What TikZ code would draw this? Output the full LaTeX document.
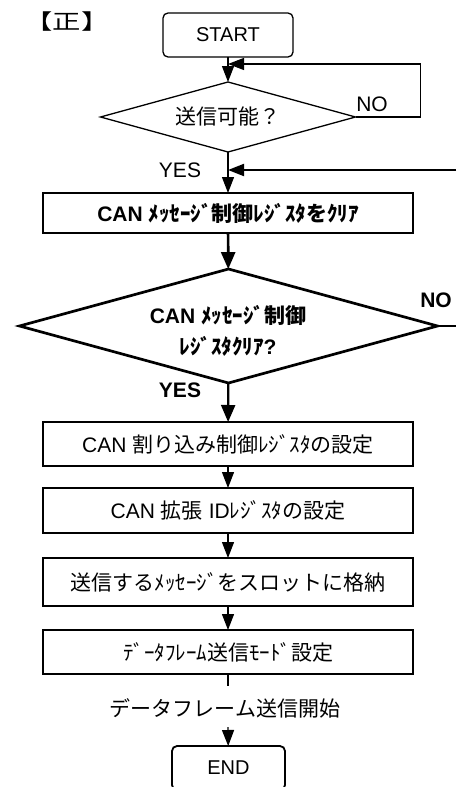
\documentclass[tikz,border=0pt]{standalone}
\usepackage{fontspec}
\setmainfont{Liberation Sans}
\newfontfamily\jp{Noto Sans CJK JP}
\usetikzlibrary{arrows.meta,shapes.geometric}
\begin{document}
\begin{tikzpicture}[x=1pt,y=-1pt,
  arr/.style={-{Triangle[length=16pt,width=12pt]}},
  barr/.style={-{Triangle[length=17pt,width=14pt]}},
  thinln/.style={line width=1.3pt},
  midln/.style={line width=1.8pt},
  thickln/.style={line width=2.7pt},
  txt/.style={font=\fontsize{21}{25}\selectfont, inner sep=0pt},
  btxt/.style={font=\bfseries\fontsize{21}{25}\selectfont, inner sep=0pt},
  term/.style={draw, thinln, rounded corners=5pt, inner sep=0pt, outer sep=0pt,
    font=\fontsize{20}{24}\selectfont},
  dia/.style={draw, diamond, inner sep=0pt, outer sep=0pt},
  procbox/.style={draw, midln, minimum width=370pt, inner sep=0pt, outer sep=0pt,
    font=\fontsize{21}{25}\selectfont}]
\useasboundingbox (0,0) rectangle (456,787);

% title
\node[inner sep=0pt, xscale=1.35, transform shape, font=\jp\fontsize{21}{25}\selectfont]
  (title) at (67,22) {【正】};

% nodes
\node[term, minimum width=130pt, minimum height=44pt] (start) at (228,35) {START};
\node[dia, thinln, aspect=3.6, minimum width=255pt, minimum height=70pt,
  font=\jp\fontsize{21}{25}\selectfont] (d1) at (228,117) {送信可能？};
\node[procbox, thickln, minimum height=40pt, font=\bfseries\fontsize{21}{25}\selectfont]
  (b1) at (228,213) {CAN {\jp ﾒｯｾｰｼﾞ制御ﾚｼﾞｽﾀをｸﾘｱ}};
\node[dia, thickln, minimum width=418pt, minimum height=114pt] (d2) at (228.5,326) {};
\node[align=center, inner sep=0pt, font=\bfseries\fontsize{21}{31}\selectfont]
  (d2t) at (228,331) {CAN {\jp ﾒｯｾｰｼﾞ制御}\\{\jp ﾚｼﾞｽﾀｸﾘｱ}?};
\node[procbox, minimum height=44pt] (b2) at (228,444) {CAN {\jp 割り込み制御ﾚｼﾞｽﾀの設定}};
\node[procbox, minimum height=45pt] (b3) at (228,510.5) {CAN {\jp 拡張} ID{\jp ﾚｼﾞｽﾀの設定}};
\node[procbox, minimum height=48pt] (b4) at (228,582) {\jp 送信するﾒｯｾｰｼﾞをスロットに格納};
\node[procbox, minimum height=44pt] (b5) at (228,652) {\jp ﾃﾞｰﾀﾌﾚｰﾑ送信ﾓｰﾄﾞ設定};
\node[txt, font=\jp\fontsize{21}{25}\selectfont] (send) at (225,708) {データフレーム送信開始};
\node[term, midln, minimum width=113pt, minimum height=44pt] (end) at (228.5,768) {END};

% labels
\node[txt] (no1) at (372,104) {NO};
\node[txt] (yes1) at (180,170) {YES};
\node[btxt] (no2) at (436,300) {NO};
\node[btxt] (yes2) at (180,390) {YES};

% coordinates
\coordinate (lp) at (228,64);
\coordinate (re) at (456,170);
\coordinate (rj) at (228,170);
\coordinate (ne) at (456,326);
\coordinate (c5) at (228,686);
\coordinate (c6) at (228,727);

% connectors
\draw[thinln, arr] (start) -- (d1);
\draw[thinln, arr] (d1.east) -- ++(65,0) |- (lp);
\draw[line width=2pt, arr] (re) -- (rj);
\draw[thinln, arr] (d1) -- (b1);
\draw[thickln, barr] (b1) -- (d2);
\draw[thickln] (d2.east) -- (ne);
\draw[line width=2.2pt, barr] (d2) -- (b2);
\draw[thinln, arr] (b2) -- (b3);
\draw[thinln, arr] (b3) -- (b4);
\draw[thinln, arr] (b4) -- (b5);
\draw[thinln] (b5) -- (c5);
\draw[thinln, arr] (c6) -- (end);
\end{tikzpicture}
\end{document}
